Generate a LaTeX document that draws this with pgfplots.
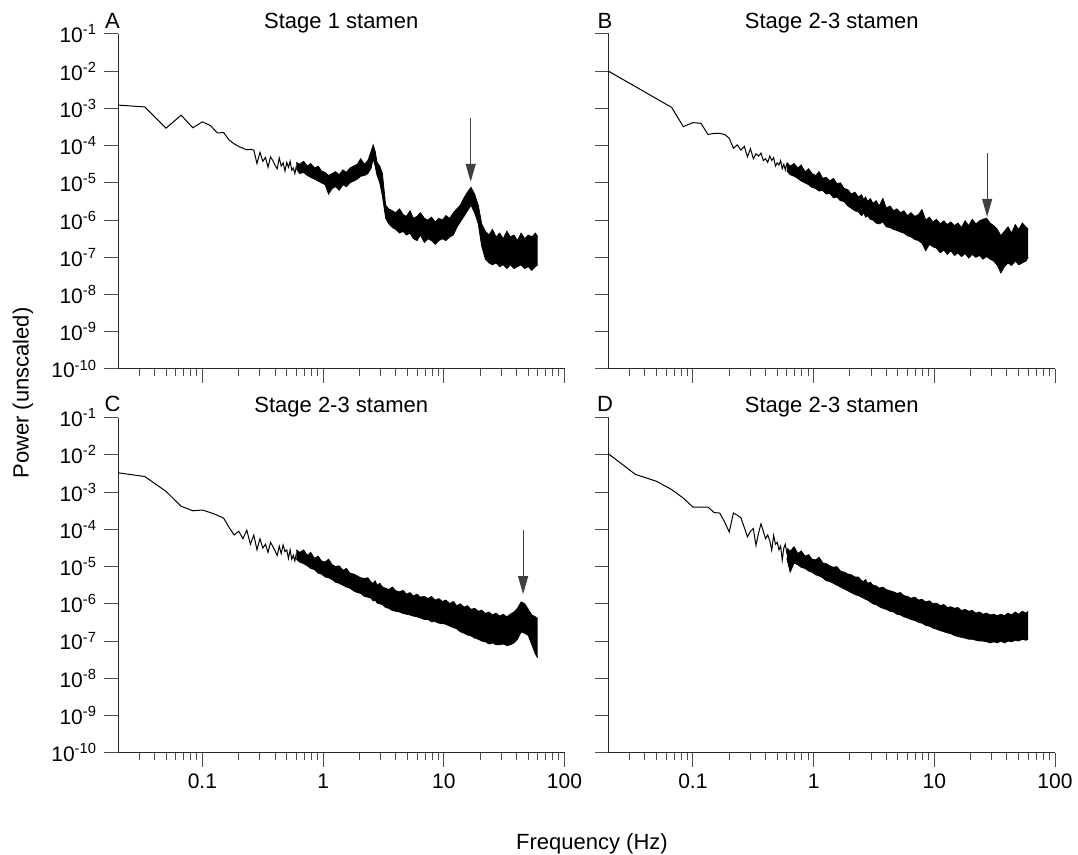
\documentclass[border=0pt]{standalone}
\usepackage{fontspec}
\setmainfont{Liberation Sans}
\usepackage{pgfplots}
\usepackage{pgfplotstable}
\pgfplotsset{compat=1.18}
\usepgfplotslibrary{fillbetween}
\usetikzlibrary{arrows.meta}

% ---------------- Panel A ----------------
\pgfplotstableread{
f p
0.02 1.23e-3
0.0333 1.10e-3
0.05 2.95e-4
0.0667 6.61e-4
0.0833 3.02e-4
0.1 4.37e-4
0.1167 3.47e-4
0.1333 2.19e-4
0.15 2.25e-4
0.1667 1.41e-4
0.1833 1.12e-4
0.2 9.55e-5
0.2167 8.51e-5
0.2333 7.76e-5
0.25 7.94e-5
0.2667 7.59e-5
0.2833 3.31e-5
0.3 6.61e-5
0.3167 3.80e-5
0.3333 4.79e-5
0.35 2.63e-5
0.3667 5.01e-5
0.3833 3.98e-5
0.4 2.95e-5
0.4167 2.40e-5
0.4333 4.68e-5
0.45 2.82e-5
0.4667 3.47e-5
0.4833 2.09e-5
0.5 3.55e-5
0.5167 2.63e-5
0.5333 3.80e-5
0.55 2.19e-5
0.5667 2.51e-5
0.5833 1.78e-5
0.6 2.82e-5
}\lineA
\pgfplotstableread{
f hi lo
0.6 3.55e-5 2.40e-5
0.64 3.16e-5 1.78e-5
0.69 3.80e-5 1.91e-5
0.74 2.82e-5 1.58e-5
0.79 3.31e-5 1.41e-5
0.85 2.51e-5 1.26e-5
0.91 2.82e-5 1.12e-5
0.97 2.09e-5 1.00e-5
1.04 1.91e-5 8.91e-6
1.11 1.58e-5 5.01e-6
1.19 1.78e-5 7.08e-6
1.27 2.00e-5 7.94e-6
1.36 1.66e-5 6.31e-6
1.46 2.24e-5 8.91e-6
1.56 1.91e-5 7.94e-6
1.67 2.51e-5 1.00e-5
1.79 2.82e-5 1.12e-5
1.92 3.16e-5 1.26e-5
2.05 4.47e-5 1.51e-5
2.2 3.16e-5 1.58e-5
2.35 3.98e-5 1.78e-5
2.5 7.08e-5 2.51e-5
2.6 1.05e-4 4.47e-5
2.7 7.08e-5 2.82e-5
2.8 3.55e-5 1.58e-5
2.95 2.82e-5 1.00e-5
3.1 1.78e-5 4.47e-6
3.3 2.51e-6 1.12e-6
3.5 2.00e-6 7.94e-7
3.75 1.78e-6 6.31e-7
4.0 1.58e-6 5.62e-7
4.3 2.00e-6 4.47e-7
4.6 1.41e-6 5.01e-7
4.9 1.26e-6 3.98e-7
5.25 1.78e-6 4.47e-7
5.6 1.12e-6 3.16e-7
6.0 1.26e-6 2.82e-7
6.4 1.58e-6 3.98e-7
6.9 1.12e-6 2.51e-7
7.4 1.00e-6 3.16e-7
7.9 1.20e-6 2.82e-7
8.5 8.91e-7 2.24e-7
9.1 1.12e-6 2.82e-7
9.75 1.00e-6 3.16e-7
10.4 1.32e-6 2.82e-7
11.2 1.12e-6 3.55e-7
12.0 1.58e-6 3.98e-7
12.8 2.00e-6 6.31e-7
13.7 2.51e-6 8.91e-7
14.7 3.98e-6 1.26e-6
15.7 5.62e-6 1.78e-6
16.8 7.59e-6 2.51e-6
18.0 5.01e-6 1.58e-6
19.3 2.51e-6 7.94e-7
20.6 7.94e-7 2.00e-7
22.1 5.01e-7 8.91e-8
23.7 3.98e-7 7.08e-8
25.3 5.62e-7 6.31e-8
27.1 3.55e-7 7.08e-8
29.0 4.47e-7 5.62e-8
31.1 3.16e-7 6.31e-8
33.3 5.01e-7 5.01e-8
35.6 3.55e-7 6.31e-8
38.1 3.98e-7 5.01e-8
40.8 2.82e-7 5.62e-8
43.7 4.47e-7 6.31e-8
46.8 3.16e-7 5.01e-8
50.1 3.98e-7 5.62e-8
53.6 3.55e-7 4.47e-8
57.4 4.47e-7 5.62e-8
60 3.55e-7 6.31e-8
}\bandA

% ---------------- Panel B ----------------
\pgfplotstableread{
f p
0.02 1.00e-2
0.0333 3.89e-3
0.05 1.82e-3
0.0667 1.07e-3
0.0833 3.24e-4
0.1 4.17e-4
0.1167 3.98e-4
0.1333 2.00e-4
0.15 2.14e-4
0.1667 2.14e-4
0.1833 2.00e-4
0.2 1.58e-4
0.2167 8.51e-5
0.2333 1.05e-4
0.25 7.59e-5
0.2667 9.55e-5
0.2833 5.01e-5
0.3 8.32e-5
0.3167 4.47e-5
0.3333 6.03e-5
0.35 5.25e-5
0.3667 6.31e-5
0.3833 3.98e-5
0.4 4.47e-5
0.4167 3.55e-5
0.4333 5.25e-5
0.45 3.98e-5
0.4667 4.79e-5
0.4833 2.82e-5
0.5 3.47e-5
0.5167 3.02e-5
0.5333 3.98e-5
0.55 2.40e-5
0.5667 3.16e-5
0.5833 2.24e-5
0.6 3.31e-5
}\lineB
\pgfplotstableread{
f hi lo
0.6 3.55e-5 2.09e-5
0.64 2.82e-5 1.66e-5
0.69 3.31e-5 1.51e-5
0.74 2.51e-5 1.32e-5
0.79 3.02e-5 1.12e-5
0.85 2.00e-5 1.00e-5
0.91 2.40e-5 8.91e-6
0.97 1.78e-5 7.59e-6
1.04 1.58e-5 7.08e-6
1.11 2.00e-5 6.03e-6
1.19 1.32e-5 6.31e-6
1.27 1.41e-5 5.01e-6
1.36 1.12e-5 5.25e-6
1.46 1.32e-5 3.98e-6
1.56 9.55e-6 4.17e-6
1.67 1.00e-5 3.31e-6
1.79 7.08e-6 3.16e-6
1.92 6.61e-6 2.40e-6
2.05 5.01e-6 2.09e-6
2.2 5.62e-6 1.78e-6
2.35 4.17e-6 1.66e-6
2.5 4.79e-6 1.32e-6
2.6 3.55e-6 1.58e-6
2.7 4.17e-6 1.20e-6
2.8 3.16e-6 1.32e-6
2.95 3.80e-6 1.05e-6
3.1 2.82e-6 1.00e-6
3.3 3.31e-6 8.32e-7
3.5 2.40e-6 7.94e-7
3.75 3.80e-6 8.91e-7
4.0 2.09e-6 6.61e-7
4.3 2.40e-6 6.31e-7
4.6 1.78e-6 5.62e-7
4.9 2.00e-6 5.25e-7
5.25 1.58e-6 4.79e-7
5.6 1.78e-6 4.47e-7
6.0 1.32e-6 3.80e-7
6.4 1.58e-6 3.55e-7
6.9 1.26e-6 3.02e-7
7.4 1.41e-6 2.82e-7
7.9 1.91e-6 2.40e-7
8.5 1.00e-6 1.51e-7
9.1 1.20e-6 2.24e-7
9.75 8.91e-7 1.91e-7
10.4 1.05e-6 1.78e-7
11.2 7.94e-7 1.32e-7
12.0 9.55e-7 1.58e-7
12.8 7.59e-7 1.20e-7
13.7 8.91e-7 1.51e-7
14.7 7.08e-7 1.12e-7
15.7 8.32e-7 1.32e-7
16.8 6.31e-7 1.05e-7
18.0 9.55e-7 1.26e-7
19.3 7.08e-7 9.55e-8
20.6 1.05e-6 1.20e-7
22.1 7.94e-7 1.00e-7
23.7 9.55e-7 1.12e-7
25.3 1.05e-6 8.91e-8
27.1 1.12e-6 1.05e-7
29.0 8.32e-7 8.91e-8
31.1 7.08e-7 7.94e-8
33.3 5.62e-7 6.03e-8
35.6 3.80e-7 3.80e-8
38.1 5.01e-7 5.62e-8
40.8 6.61e-7 7.08e-8
43.7 4.47e-7 6.03e-8
46.8 7.59e-7 7.94e-8
50.1 5.62e-7 6.31e-8
53.6 8.32e-7 7.08e-8
57.4 6.61e-7 7.94e-8
60 5.62e-7 1.00e-7
}\bandB

% ---------------- Panel C ----------------
\pgfplotstableread{
f p
0.02 3.31e-3
0.0333 2.63e-3
0.05 1.05e-3
0.0667 4.17e-4
0.0833 3.16e-4
0.1 3.31e-4
0.1167 2.82e-4
0.1333 2.40e-4
0.15 2.00e-4
0.1667 1.12e-4
0.1833 7.08e-5
0.2 8.91e-5
0.2167 5.62e-5
0.2333 9.55e-5
0.25 3.98e-5
0.2667 7.08e-5
0.2833 2.82e-5
0.3 5.62e-5
0.3167 3.16e-5
0.3333 3.98e-5
0.35 2.40e-5
0.3667 4.47e-5
0.3833 3.47e-5
0.4 2.63e-5
0.4167 2.00e-5
0.4333 3.55e-5
0.45 2.24e-5
0.4667 3.80e-5
0.4833 2.51e-5
0.5 2.82e-5
0.5167 1.66e-5
0.5333 2.82e-5
0.55 1.58e-5
0.5667 2.00e-5
0.5833 1.41e-5
0.6 2.24e-5
}\lineC
\pgfplotstableread{
f hi lo
0.6 2.82e-5 1.58e-5
0.64 2.40e-5 1.32e-5
0.69 2.82e-5 1.20e-5
0.74 2.00e-5 1.05e-5
0.79 2.40e-5 8.91e-6
0.85 1.66e-5 8.32e-6
0.91 1.91e-5 6.61e-6
0.97 1.41e-5 6.31e-6
1.04 1.32e-5 5.25e-6
1.11 1.58e-5 5.01e-6
1.19 1.12e-5 4.47e-6
1.27 1.00e-5 3.80e-6
1.36 1.05e-5 3.55e-6
1.46 7.94e-6 3.16e-6
1.56 8.91e-6 2.82e-6
1.67 6.61e-6 2.63e-6
1.79 6.31e-6 2.24e-6
1.92 5.62e-6 2.00e-6
2.05 5.01e-6 1.91e-6
2.2 4.79e-6 1.58e-6
2.35 5.01e-6 1.51e-6
2.5 3.80e-6 1.41e-6
2.6 3.55e-6 1.20e-6
2.7 4.17e-6 1.26e-6
2.8 3.16e-6 1.05e-6
2.95 3.55e-6 1.00e-6
3.1 2.82e-6 9.55e-7
3.3 2.63e-6 7.94e-7
3.5 2.40e-6 7.59e-7
3.75 2.82e-6 6.61e-7
4.0 2.24e-6 6.31e-7
4.3 2.09e-6 6.03e-7
4.6 2.29e-6 5.50e-7
4.9 1.82e-6 5.25e-7
5.25 2.00e-6 5.01e-7
5.6 1.62e-6 4.68e-7
6.0 1.82e-6 4.47e-7
6.4 1.51e-6 4.17e-7
6.9 1.58e-6 3.80e-7
7.4 1.38e-6 3.80e-7
7.9 1.58e-6 3.31e-7
8.5 1.26e-6 3.31e-7
9.1 1.38e-6 3.02e-7
9.75 1.15e-6 2.95e-7
10.4 1.26e-6 2.82e-7
11.2 1.02e-6 2.51e-7
12.0 1.15e-6 2.29e-7
12.8 8.91e-7 2.14e-7
13.7 1.00e-6 1.78e-7
14.7 8.13e-7 1.62e-7
15.7 8.91e-7 1.45e-7
16.8 7.08e-7 1.38e-7
18.0 7.59e-7 1.20e-7
19.3 6.31e-7 1.12e-7
20.6 6.76e-7 1.00e-7
22.1 5.50e-7 9.55e-8
23.7 6.03e-7 8.32e-8
25.3 5.01e-7 8.91e-8
27.1 5.62e-7 7.94e-8
29.0 4.68e-7 7.94e-8
31.1 5.25e-7 8.32e-8
33.3 4.47e-7 7.59e-8
35.6 5.25e-7 7.94e-8
38.1 6.03e-7 8.91e-8
40.8 7.59e-7 1.12e-7
43.7 1.12e-6 1.74e-7
46.8 1.00e-6 1.62e-7
50.1 7.08e-7 1.41e-7
53.6 5.01e-7 7.94e-8
57.4 4.47e-7 4.47e-8
60 3.98e-7 3.55e-8
}\bandC

% ---------------- Panel D ----------------
\pgfplotstableread{
f p
0.02 1.07e-2
0.0333 3.02e-3
0.05 1.95e-3
0.0667 1.17e-3
0.0833 6.92e-4
0.1 3.98e-4
0.1167 3.98e-4
0.1333 3.98e-4
0.15 2.82e-4
0.1667 2.75e-4
0.1833 1.58e-4
0.2 8.51e-5
0.2167 2.75e-4
0.2333 2.40e-4
0.25 2.04e-4
0.2667 1.12e-4
0.2833 6.31e-5
0.3 8.91e-5
0.3167 1.05e-4
0.3333 3.72e-5
0.35 7.94e-5
0.3667 1.41e-4
0.3833 8.91e-5
0.4 5.62e-5
0.4167 7.08e-5
0.4333 5.01e-5
0.45 2.75e-5
0.4667 6.92e-5
0.4833 3.98e-5
0.5 4.47e-5
0.5167 2.82e-5
0.5333 3.55e-5
0.55 1.48e-5
0.5667 3.16e-5
0.5833 3.98e-5
0.6 2.24e-5
}\lineD
\pgfplotstableread{
f hi lo
0.6 3.16e-5 1.66e-5
0.64 2.63e-5 7.08e-6
0.69 3.39e-5 1.26e-5
0.74 2.24e-5 1.12e-5
0.79 2.63e-5 9.55e-6
0.85 1.91e-5 8.91e-6
0.91 2.09e-5 7.59e-6
0.97 1.58e-5 7.08e-6
1.04 1.51e-5 6.03e-6
1.11 1.78e-5 5.62e-6
1.19 1.26e-5 5.01e-6
1.27 1.20e-5 4.17e-6
1.36 1.05e-5 3.98e-6
1.46 9.55e-6 3.55e-6
1.56 1.00e-5 3.16e-6
1.67 7.59e-6 2.82e-6
1.79 7.08e-6 2.51e-6
1.92 6.31e-6 2.24e-6
2.05 6.03e-6 2.00e-6
2.2 5.25e-6 1.78e-6
2.35 5.25e-6 1.66e-6
2.5 4.17e-6 1.51e-6
2.6 3.98e-6 1.41e-6
2.7 4.47e-6 1.32e-6
2.8 3.55e-6 1.26e-6
2.95 3.80e-6 1.12e-6
3.1 3.16e-6 1.00e-6
3.3 3.02e-6 9.55e-7
3.5 2.63e-6 8.32e-7
3.75 2.82e-6 7.59e-7
4.0 2.40e-6 7.08e-7
4.3 2.24e-6 6.31e-7
4.6 2.09e-6 6.03e-7
4.9 1.91e-6 5.25e-7
5.25 2.00e-6 5.01e-7
5.6 1.66e-6 4.47e-7
6.0 1.58e-6 4.17e-7
6.4 1.41e-6 3.80e-7
6.9 1.51e-6 3.55e-7
7.4 1.26e-6 3.16e-7
7.9 1.32e-6 3.02e-7
8.5 1.12e-6 2.63e-7
9.1 1.20e-6 2.51e-7
9.75 1.00e-6 2.24e-7
10.4 1.05e-6 2.09e-7
11.2 8.91e-7 1.91e-7
12.0 9.55e-7 1.78e-7
12.8 7.94e-7 1.66e-7
13.7 8.32e-7 1.58e-7
14.7 7.59e-7 1.41e-7
15.7 7.94e-7 1.32e-7
16.8 6.61e-7 1.26e-7
18.0 7.08e-7 1.20e-7
19.3 6.31e-7 1.12e-7
20.6 6.61e-7 1.12e-7
22.1 5.62e-7 1.05e-7
23.7 6.03e-7 1.00e-7
25.3 5.25e-7 1.00e-7
27.1 5.62e-7 9.55e-8
29.0 5.01e-7 8.91e-8
31.1 5.25e-7 9.55e-8
33.3 4.79e-7 8.91e-8
35.6 5.25e-7 1.00e-7
38.1 4.79e-7 8.91e-8
40.8 5.62e-7 1.00e-7
43.7 5.01e-7 9.55e-8
46.8 6.03e-7 1.05e-7
50.1 5.25e-7 1.00e-7
53.6 6.31e-7 1.12e-7
57.4 5.62e-7 1.05e-7
60 6.31e-7 1.12e-7
}\bandD

\pgfplotsset{
  every axis title/.style={at={(0.5,1)}, anchor=base, yshift=2.85pt, inner sep=0pt,
                 font=\fontsize{11}{13}\selectfont},
  every axis/.append style={
    scale only axis, width=223.25pt, height=167.5pt,
    xmin=0.02, xmax=100, ymin=1e-10, ymax=1e-1,
    axis x line*=bottom, axis y line*=left,
    axis line style={black!85, line width=0.5pt},
    xtick={0.1,1,10,100},
    minor xtick={0.03,0.04,0.05,0.06,0.07,0.08,0.09,0.2,0.3,0.4,0.5,0.6,0.7,0.8,0.9,2,3,4,5,6,7,8,9,20,30,40,50,60,70,80,90},
    ytick={1e-10,1e-9,1e-8,1e-7,1e-6,1e-5,1e-4,1e-3,1e-2,1e-1},
    minor ytick={1e-10},
    tick align=outside,
    major tick length=7pt, minor tick length=3.5pt,
    tick style={black!70, line width=0.5pt},
    tick label style={font=\fontsize{10.5}{12}\selectfont},
  },
}

\begin{document}
\begin{tikzpicture}

% A
\begin{loglogaxis}[at={(59pt,-184.5pt)}, anchor=south west, title={Stage 1 stamen},
  xticklabels={},
  yticklabels={10\textsuperscript{-10},10\textsuperscript{-9},10\textsuperscript{-8},10\textsuperscript{-7},10\textsuperscript{-6},10\textsuperscript{-5},10\textsuperscript{-4},10\textsuperscript{-3},10\textsuperscript{-2},10\textsuperscript{-1}}]
\addplot[black, line width=0.5pt] table[x=f,y=p]{\lineA};
\addplot[black, line width=0.4pt, name path=ahi] table[x=f,y=hi]{\bandA};
\addplot[black, line width=0.4pt, name path=alo] table[x=f,y=lo]{\bandA};
\addplot[black] fill between[of=ahi and alo];
\draw[black!75, line width=0.6pt, -{Triangle[length=9pt,width=5pt]}] (axis cs:16.7,5.5e-4) -- (axis cs:16.7,1.07e-5);
\end{loglogaxis}

% B
\begin{loglogaxis}[at={(304.25pt,-184.5pt)}, anchor=south west, title={Stage 2-3 stamen},
  xticklabels={}, yticklabels={}]
\addplot[black, line width=0.5pt] table[x=f,y=p]{\lineB};
\addplot[black, line width=0.4pt, name path=bhi] table[x=f,y=hi]{\bandB};
\addplot[black, line width=0.4pt, name path=blo] table[x=f,y=lo]{\bandB};
\addplot[black] fill between[of=bhi and blo];
\draw[black!75, line width=0.6pt, -{Triangle[length=9pt,width=5pt]}] (axis cs:27.4,6.2e-5) -- (axis cs:27.4,1.23e-6);
\end{loglogaxis}

% C
\begin{loglogaxis}[at={(59pt,-376.35pt)}, anchor=south west, title={Stage 2-3 stamen},
  xticklabels={0.1,1,10,100},
  yticklabels={10\textsuperscript{-10},10\textsuperscript{-9},10\textsuperscript{-8},10\textsuperscript{-7},10\textsuperscript{-6},10\textsuperscript{-5},10\textsuperscript{-4},10\textsuperscript{-3},10\textsuperscript{-2},10\textsuperscript{-1}}]
\addplot[black, line width=0.5pt] table[x=f,y=p]{\lineC};
\addplot[black, line width=0.4pt, name path=chi] table[x=f,y=hi]{\bandC};
\addplot[black, line width=0.4pt, name path=clo] table[x=f,y=lo]{\bandC};
\addplot[black] fill between[of=chi and clo];
\draw[black!75, line width=0.6pt, -{Triangle[length=9pt,width=5pt]}] (axis cs:45.4,9.5e-5) -- (axis cs:45.4,1.82e-6);
\end{loglogaxis}

% D
\begin{loglogaxis}[at={(304.25pt,-376.35pt)}, anchor=south west, title={Stage 2-3 stamen},
  xticklabels={0.1,1,10,100}, yticklabels={}]
\addplot[black, line width=0.5pt] table[x=f,y=p]{\lineD};
\addplot[black, line width=0.4pt, name path=dhi] table[x=f,y=hi]{\bandD};
\addplot[black, line width=0.4pt, name path=dlo] table[x=f,y=lo]{\bandD};
\addplot[black] fill between[of=dhi and dlo];
\end{loglogaxis}

% panel letters
\node[anchor=base, inner sep=0pt, font=\fontsize{11}{13}\selectfont] at (56.25pt,-14.15pt) {A};
\node[anchor=base, inner sep=0pt, font=\fontsize{11}{13}\selectfont] at (302.5pt,-14.15pt) {B};
\node[anchor=base, inner sep=0pt, font=\fontsize{11}{13}\selectfont] at (56.25pt,-206pt) {C};
\node[anchor=base, inner sep=0pt, font=\fontsize{11}{13}\selectfont] at (302.5pt,-206pt) {D};

% shared axis labels
\node[rotate=90, font=\fontsize{11}{13}\selectfont] at (11.5pt,-196.5pt) {Power (unscaled)};
\node[anchor=base, inner sep=0pt, font=\fontsize{11}{13}\selectfont] at (296pt,-424.5pt) {Frequency (Hz)};

\pgfresetboundingbox
\useasboundingbox (0,0) rectangle (539pt,-427.5pt);
\end{tikzpicture}
\end{document}
